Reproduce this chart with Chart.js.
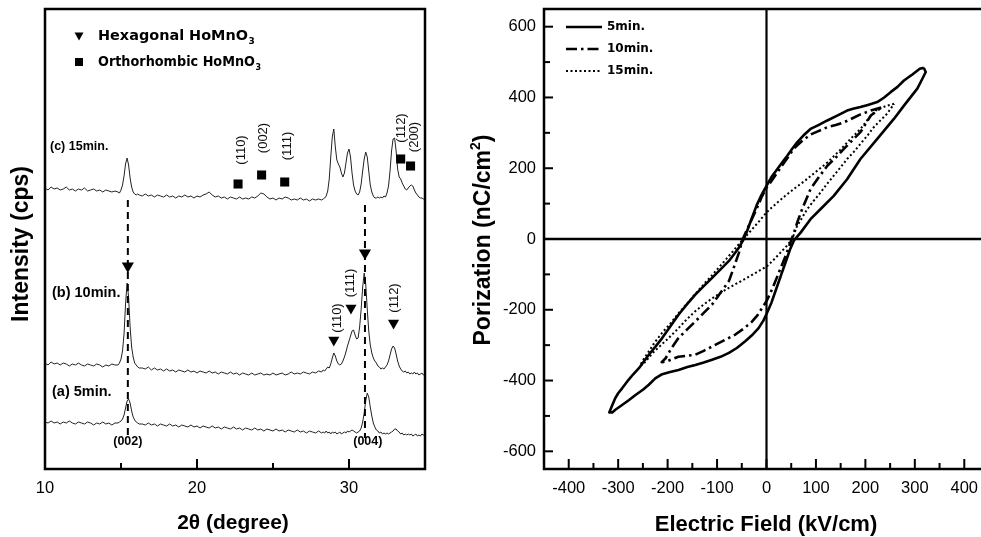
<!DOCTYPE html>
<html><head><meta charset="utf-8">
<script src="https://cdn.jsdelivr.net/npm/chart.js@4.4.1/dist/chart.umd.min.js"></script>
<style>
html,body{margin:0;padding:0;background:#fff;overflow:hidden;width:981px;height:537px;position:relative}
#cl{position:absolute;left:0;top:0}
#cr{position:absolute;left:460px;top:0}
</style></head>
<body>
<canvas id="cl" width="460" height="537" style="width:460px;height:537px"></canvas>
<canvas id="cr" width="550" height="537" style="width:550px;height:537px"></canvas>
<script>
// ---------- LEFT PANEL DATA (XRD) ----------
const twoTheta = [
 10,10.2,10.4,10.6,10.8,11,11.2,11.4,11.6,11.8,12,12.2,12.4,12.6,12.8,13,13.2,13.4,13.6,13.8,14,14.2,14.4,14.6,
 14.8,14.9,15,15.1,15.2,15.3,15.4,15.5,15.6,15.7,15.8,15.9,16,16.1,16.2,
 16.4,16.6,16.8,17,17.2,17.4,17.6,17.8,18,18.2,18.4,18.6,18.8,19,19.2,19.4,19.6,19.8,20,20.2,20.4,20.6,20.8,21,21.2,21.4,21.6,21.8,22,22.2,22.4,22.6,22.8,23,23.2,23.4,23.6,23.8,24,24.2,24.4,24.6,24.8,25,25.2,25.4,25.6,25.8,26,26.2,26.4,26.6,26.8,27,27.2,27.4,27.6,27.8,28,28.2,
 28.3,28.4,28.5,28.6,28.7,28.8,28.9,29,29.1,29.2,29.3,29.4,29.5,29.6,29.7,29.8,29.9,30,30.1,30.2,30.3,30.4,30.5,30.6,30.7,30.8,30.9,31,31.1,31.2,31.3,31.4,31.5,31.6,31.7,31.8,31.9,32,32.1,32.2,32.3,32.4,32.5,32.6,32.7,32.8,32.9,33,33.1,33.2,33.3,33.4,33.5,33.6,33.7,33.8,
 33.9,34,34.1,34.2,34.3,34.4,34.5,34.6,34.7,34.8,34.9,35
];
const int5min = [
 47,46,48,46,47,45,47,46,48,46,45,47,46,45,47,46,44,46,45,47,45,46,44,46,
 46,47,48,50,54,61,68,70,66,58,52,49,47,46,45,
 45,44,46,44,45,43,45,44,43,45,43,44,42,44,43,42,44,42,43,41,43,42,41,43,41,42,40,42,41,40,42,40,41,39,41,40,39,41,39,40,38,40,39,38,40,38,39,37,39,38,37,39,37,38,36,38,37,36,38,36,
 37,36,38,36,37,35,37,36,37,35,36,37,35,36,37,36,38,37,38,39,38,37,36,37,38,41,47,56,68,76,72,62,53,46,42,39,38,36,37,35,36,35,36,35,36,37,38,40,40,38,37,35,36,34,35,34,
 35,34,35,33,34,35,33,34,33,35,34,34
];
const int10min = [
 106,104,107,105,106,104,106,105,103,105,104,106,104,103,105,104,103,105,104,102,104,103,105,104,
 104,106,110,118,135,165,186,172,142,122,112,106,104,102,101,
 101,100,102,99,101,99,100,98,100,98,99,97,99,98,97,99,97,98,96,98,97,96,98,96,97,95,97,96,95,97,95,96,94,96,95,94,96,94,95,96,94,95,94,96,94,95,96,94,95,97,95,96,95,97,96,95,97,96,98,97,
 99,98,100,102,101,105,111,116,113,108,105,104,105,108,112,117,123,128,133,138,139,134,130,131,142,160,182,196,185,160,138,124,116,111,108,106,103,102,100,101,100,102,104,108,114,120,123,121,115,108,103,100,98,97,98,96,
 97,95,96,95,97,95,96,94,95,96,94,95
];
const int15min = [
 281,279,282,280,281,279,280,282,279,280,278,280,279,281,278,279,280,278,279,277,279,278,277,278,
 277,276,279,284,293,305,311,304,291,282,277,275,274,275,274,
 273,275,273,274,272,274,273,272,274,272,273,271,273,272,274,272,273,271,273,272,274,275,277,274,272,273,271,272,270,272,271,270,272,270,271,270,272,271,273,276,275,272,270,271,269,271,270,272,271,269,270,269,271,269,270,268,270,269,270,269,
 270,271,273,278,290,312,332,340,322,309,305,302,296,292,296,306,316,320,312,296,284,278,275,274,277,285,298,310,317,312,298,284,277,273,271,271,272,271,272,271,273,272,276,283,298,318,330,331,318,300,292,290,286,283,280,279,
 281,283,284,283,279,276,274,272,271,271,270,269
];
const sampleLabels = ['(a) 5min.', '(b) 10min.', '(c) 15min.'];
const xTicksLeft = [10, 20, 30];
const xMinorLeft = [15, 25];
// hexagonal peak markers on trace (b)
const hexX = [29.0, 30.13, 32.93];
const hexY = [129, 161, 146];
const hexLabels = ['(110)', '(111)', '(112)'];
const hexLabelX = [29.25, 30.1, 32.97];
const hexLabelY = [151, 186, 171];
// arrows shared by (002) / (004)
const arrowX = [15.45, 31.05];
const arrowY = [203, 216];
const dashTopY = [269, 264];
const dashBottomY = [31, 31];
const baseLabels = ['(002)', '(004)'];
const baseLabelX = [15.45, 31.24];
const baseLabelY = [27, 27];
// orthorhombic peak markers on trace (c)
const orthoX = [22.7, 24.25, 25.77, 33.4, 34.05];
const orthoY = [285, 294, 287, 310, 303];
const orthoLabels = ['(110)', '(002)', '(111)', '(112)', '(200)'];
const orthoLabelX = [22.91, 24.4, 25.95, 33.45, 34.3];
const orthoLabelY = [319, 331, 323, 341, 332];

// ---------- RIGHT PANEL DATA (P-E loops) ----------
const seriesNames = ['5min.', '10min.', '15min.'];
const loop5E = [318,310,295,278,265,251,238,224,205,190,175,163,145,123,105,89,75,62,52,42,32,22,10,0,-10,-20,-32,-40,-46,-56,-66,-76,-93,-110,-127,-144,-161,-178,-195,-211,-225,-238,-250,-258,-270,-279,-292,-300,-306,-312,-318,
 -312,-305,-292,-278,-265,-250,-238,-225,-211,-195,-178,-160,-144,-127,-110,-93,-76,-60,-43,-30,-16,-6,0,10,20,30,40,48,56,69,89,109,136,163,190,224,258,278,305,316,322,318];
const loop5P = [484,481,465,448,430,415,400,387,379,373,368,363,350,335,322,311,293,273,255,235,217,198,175,150,125,95,50,20,0,-25,-44,-62,-86,-110,-133,-157,-185,-214,-248,-280,-305,-327,-350,-365,-383,-398,-422,-436,-450,-470,-490,
 -490,-482,-469,-455,-441,-426,-412,-394,-382,-376,-370,-362,-356,-349,-341,-333,-322,-308,-289,-273,-252,-230,-212,-180,-140,-100,-60,-28,-3,18,56,84,122,169,226,283,340,377,425,455,472,484];
const loop10E = [232,211,190,175,157,140,123,105,89,70,55,42,30,18,8,0,-10,-20,-30,-40,-48,-56,-66,-76,-93,-110,-127,-144,-161,-178,-192,-204,-212,
 -200,-190,-178,-160,-144,-127,-110,-85,-63,-45,-29,-18,-9,0,12,25,38,48,56,63,72,89,106,123,140,156,173,190,211,225,232];
const loop10P = [372,363,352,342,330,322,316,305,295,275,255,228,205,180,160,145,118,85,55,25,0,-40,-80,-119,-152,-185,-209,-233,-256,-280,-308,-337,-348,
 -345,-339,-333,-330,-327,-316,-304,-286,-270,-252,-233,-215,-195,-176,-140,-95,-50,-12,20,50,84,141,175,207,230,254,278,302,349,364,372];
const loop15E = [258,240,221,205,190,170,150,123,100,78,55,38,22,10,0,-15,-32,-47,-62,-76,-93,-110,-127,-144,-161,-178,-195,-211,-226,-240,-250,-256,
 -250,-230,-215,-198,-180,-162,-144,-127,-110,-93,-76,-58,-40,-20,1,15,30,42,52,62,72,82,95,109,122,136,150,163,177,190,204,217,231,244,252,258];
const loop15P = [382,375,363,338,311,283,253,216,190,165,141,122,103,88,75,50,23,0,-25,-48,-75,-102,-128,-155,-183,-210,-240,-265,-292,-322,-343,-358,
 -355,-322,-302,-280,-255,-228,-204,-185,-168,-152,-138,-124,-110,-94,-77,-58,-36,-18,0,37,60,84,107,131,155,179,203,226,247,269,292,316,336,354,370,382];
const xTicksRight = [-400,-300,-200,-100,0,100,200,300,400];
const xMinorRight = [-350,-250,-150,-50,50,150,250,350];
const yTicksRight = [-600,-400,-200,0,200,400,600];
const yMinorRight = [-500,-300,-100,100,300,500];

// ---------- helpers ----------
Chart.defaults.font.family = "'Liberation Sans', Arial, sans-serif";
Chart.defaults.color = '#000';
const LS = "'Liberation Sans', Arial, sans-serif";
const DV = "'DejaVu Sans', sans-serif";
const xy = (xs, ys) => xs.map((v, i) => ({x: v, y: ys[i]}));
function txt(ctx, s, x, y, font, align) {
  ctx.font = font; ctx.textAlign = align || 'left'; ctx.textBaseline = 'middle'; ctx.fillText(s, x, y);
}
function rtxt(ctx, s, x, y, font) {
  ctx.save(); ctx.translate(x, y); ctx.rotate(-Math.PI / 2);
  ctx.font = font; ctx.textAlign = 'center'; ctx.textBaseline = 'middle'; ctx.fillText(s, 0, 0); ctx.restore();
}
function seg(ctx, x1, y1, x2, y2) { ctx.beginPath(); ctx.moveTo(x1, y1); ctx.lineTo(x2, y2); ctx.stroke(); }
// text with subscript, squeezed horizontally to a given width of the main part
function withSubFit(ctx, main, sub, x, y, font, subFont, dy, width) {
  ctx.save();
  ctx.font = font; ctx.textAlign = 'left'; ctx.textBaseline = 'middle';
  const w = ctx.measureText(main).width; const k = width / w;
  ctx.translate(x, y); ctx.scale(k, 1);
  ctx.fillText(main, 0, 0);
  ctx.font = subFont; ctx.fillText(sub, w + 0.5, dy);
  ctx.restore();
}
function noPad(s) { s.paddingTop = 0; s.paddingBottom = 0; s.paddingLeft = 0; s.paddingRight = 0; }

// ---------- LEFT CHART ----------
const leftDecor = {
  id: 'leftDecor',
  afterDraw(chart) {
    const {ctx, chartArea: a, scales: {x, y}} = chart;
    ctx.save();
    ctx.fillStyle = '#000'; ctx.strokeStyle = '#000';
    ctx.lineWidth = 2.5;
    ctx.strokeRect(a.left, a.top, a.right - a.left, a.bottom - a.top);
    ctx.lineWidth = 2;
    xTicksLeft.forEach(v => { const p = x.getPixelForValue(v); seg(ctx, p, a.bottom, p, a.bottom - 10); });
    xMinorLeft.forEach(v => { const p = x.getPixelForValue(v); seg(ctx, p, a.bottom, p, a.bottom - 6); });
    // legend
    const lx = a.left + 34, ly1 = a.top + 27, ly2 = a.top + 53;
    ctx.beginPath(); ctx.moveTo(lx - 4.5, ly1 - 3.5); ctx.lineTo(lx + 4.5, ly1 - 3.5); ctx.lineTo(lx, ly1 + 4.5); ctx.closePath(); ctx.fill();
    ctx.fillRect(lx - 4, ly2 - 4, 8, 8);
    withSubFit(ctx, 'Hexagonal HoMnO', '3', a.left + 53, ly1, 'bold 14.5px ' + DV, 'bold 9px ' + DV, 6, 150);
    withSubFit(ctx, 'Orthorhombic HoMnO', '3', a.left + 53, ly2, 'bold 14.5px ' + DV, 'bold 9px ' + DV, 6, 157);
    // sample labels
    txt(ctx, sampleLabels[2], a.left + 5, 147, 'bold 12.5px ' + LS);
    txt(ctx, sampleLabels[1], a.left + 7, 293, 'bold 14.5px ' + LS);
    txt(ctx, sampleLabels[0], a.left + 7, 392, 'bold 14.5px ' + LS);
    // hkl labels
    ctx.fillStyle = '#111';
    orthoLabels.forEach((s, i) => rtxt(ctx, s, x.getPixelForValue(orthoLabelX[i]), y.getPixelForValue(orthoLabelY[i]), '13px ' + LS));
    hexLabels.forEach((s, i) => rtxt(ctx, s, x.getPixelForValue(hexLabelX[i]), y.getPixelForValue(hexLabelY[i]), '13px ' + LS));
    ctx.fillStyle = '#000';
    baseLabels.forEach((s, i) => txt(ctx, s, x.getPixelForValue(baseLabelX[i]), y.getPixelForValue(baseLabelY[i]), 'bold 12.5px ' + LS, 'center'));
    // axis titles
    txt(ctx, '2\u03B8 (degree)', 233, 523, 'bold 21px ' + LS, 'center');
    rtxt(ctx, 'Intensity (cps)', 22, 244, 'bold 23px ' + LS);
    ctx.restore();
  }
};

const traceStyle = {showLine: true, borderColor: '#222', borderWidth: 1, pointRadius: 0, tension: 0};
const dashStyle = {showLine: true, borderColor: '#000', borderWidth: 2, borderDash: [7, 5], pointRadius: 0};
new Chart(document.getElementById('cl'), {
  type: 'scatter',
  data: {
    datasets: [
      {data: xy(hexX, hexY), pointStyle: 'triangle', pointRotation: 180, pointRadius: 6.4, pointBackgroundColor: '#000', pointBorderColor: '#000', pointBorderWidth: 0},
      {data: xy(arrowX, arrowY), pointStyle: 'triangle', pointRotation: 180, pointRadius: 7, pointBackgroundColor: '#000', pointBorderColor: '#000', pointBorderWidth: 0},
      {data: xy(orthoX, orthoY), pointStyle: 'rect', pointRadius: 6.4, pointBackgroundColor: '#000', pointBorderColor: '#000', pointBorderWidth: 0},
      Object.assign({data: [{x: arrowX[0], y: dashTopY[0]}, {x: arrowX[0], y: dashBottomY[0]}]}, dashStyle),
      Object.assign({data: [{x: arrowX[1], y: dashTopY[1]}, {x: arrowX[1], y: dashBottomY[1]}]}, dashStyle),
      Object.assign({label: sampleLabels[0], data: xy(twoTheta, int5min)}, traceStyle),
      Object.assign({label: sampleLabels[1], data: xy(twoTheta, int10min)}, traceStyle),
      Object.assign({label: sampleLabels[2], data: xy(twoTheta, int15min)}, traceStyle)
    ]
  },
  options: {
    responsive: false, animation: false, events: [],
    layout: {padding: {top: 9, right: 35, left: 0, bottom: 0}},
    plugins: {legend: {display: false}, tooltip: {enabled: false}},
    scales: {
      x: {
        type: 'linear', min: 10, max: 35,
        afterBuildTicks: s => { s.ticks = xTicksLeft.map(v => ({value: v})); },
        afterFit: s => { s.height = 68; noPad(s); },
        grid: {display: false, drawTicks: false}, border: {display: false},
        ticks: {font: {size: 16.5}, color: '#000', padding: 10, maxRotation: 0, autoSkip: false}
      },
      y: {
        type: 'linear', min: 0, max: 460,
        afterFit: s => { s.width = 45; noPad(s); },
        grid: {display: false, drawTicks: false}, border: {display: false},
        ticks: {display: false}
      }
    }
  },
  plugins: [leftDecor]
});

// ---------- RIGHT CHART ----------
const loopStyles = [
  {borderDash: [], borderWidth: 2.6},
  {borderDash: [11, 4, 2.5, 4], borderWidth: 2.6},
  {borderDash: [2, 2.5], borderWidth: 2}
];
const rightDecor = {
  id: 'rightDecor',
  beforeDatasetsDraw(chart) {
    const {ctx, chartArea: a, scales: {x, y}} = chart;
    ctx.save(); ctx.strokeStyle = '#000';
    const x0 = x.getPixelForValue(0), y0 = y.getPixelForValue(0);
    ctx.lineWidth = 2.6; seg(ctx, a.left, y0, a.right, y0);
    ctx.lineWidth = 2.2; seg(ctx, x0, a.top, x0, a.bottom);
    ctx.restore();
  },
  afterDraw(chart) {
    const {ctx, chartArea: a, scales: {x, y}} = chart;
    ctx.save(); ctx.strokeStyle = '#000'; ctx.fillStyle = '#000';
    ctx.lineWidth = 2.5;
    ctx.strokeRect(a.left, a.top, a.right - a.left, a.bottom - a.top);
    ctx.lineWidth = 2;
    xTicksRight.forEach(v => { const p = x.getPixelForValue(v); seg(ctx, p, a.bottom, p, a.bottom - 10); });
    xMinorRight.forEach(v => { const p = x.getPixelForValue(v); seg(ctx, p, a.bottom, p, a.bottom - 6); });
    yTicksRight.forEach(v => { const p = y.getPixelForValue(v); seg(ctx, a.left, p, a.left + 9, p); });
    yMinorRight.forEach(v => { const p = y.getPixelForValue(v); seg(ctx, a.left, p, a.left + 6, p); });
    // legend
    const rows = [a.top + 18, a.top + 40, a.top + 62];
    seriesNames.forEach((n, i) => {
      ctx.save();
      ctx.lineWidth = loopStyles[i].borderWidth; ctx.setLineDash(loopStyles[i].borderDash);
      seg(ctx, a.left + 22, rows[i], a.left + 58, rows[i]);
      ctx.restore();
      txt(ctx, n, a.left + 63, rows[i], 'bold 12px ' + DV);
    });
    // titles
    txt(ctx, 'Electric Field (kV/cm)', 306, 525, 'bold 22px ' + LS, 'center');
    ctx.save(); ctx.translate(24, 240); ctx.rotate(-Math.PI / 2);
    ctx.textBaseline = 'middle'; ctx.textAlign = 'left';
    const f1 = 'bold 23px ' + LS, f2 = 'bold 14px ' + LS;
    ctx.font = f1; const w1 = ctx.measureText('Porization (nC/cm').width; const w3 = ctx.measureText(')').width;
    ctx.font = f2; const w2 = ctx.measureText('2').width;
    const start = -(w1 + w2 + w3) / 2;
    ctx.font = f1; ctx.fillText('Porization (nC/cm', start, 0);
    ctx.font = f2; ctx.fillText('2', start + w1, -8);
    ctx.font = f1; ctx.fillText(')', start + w1 + w2, 0);
    ctx.restore();
    ctx.restore();
  }
};

const loops = [[loop5E, loop5P], [loop10E, loop10P], [loop15E, loop15P]];
new Chart(document.getElementById('cr'), {
  type: 'scatter',
  data: {
    datasets: loops.map((l, i) => ({
      label: seriesNames[i], data: xy(l[0], l[1]), showLine: true, tension: 0,
      borderColor: '#000', borderWidth: loopStyles[i].borderWidth, borderDash: loopStyles[i].borderDash,
      pointRadius: 0, borderJoinStyle: 'round'
    }))
  },
  options: {
    responsive: false, animation: false, events: [],
    layout: {padding: {top: 9, right: 21, left: 0, bottom: 0}},
    plugins: {legend: {display: false}, tooltip: {enabled: false}},
    scales: {
      x: {
        type: 'linear', min: -450, max: 450,
        afterBuildTicks: s => { s.ticks = xTicksRight.map(v => ({value: v})); },
        afterFit: s => { s.height = 68; noPad(s); },
        grid: {display: false, drawTicks: false}, border: {display: false},
        ticks: {font: {size: 16.5}, color: '#000', padding: 10, maxRotation: 0, autoSkip: false}
      },
      y: {
        type: 'linear', min: -650, max: 650,
        afterBuildTicks: s => { s.ticks = yTicksRight.map(v => ({value: v})); },
        afterFit: s => { s.width = 84; noPad(s); },
        grid: {display: false, drawTicks: false}, border: {display: false},
        ticks: {font: {size: 16.5}, color: '#000', padding: 8, autoSkip: false}
      }
    }
  },
  plugins: [rightDecor]
});
</script>
</body></html>
